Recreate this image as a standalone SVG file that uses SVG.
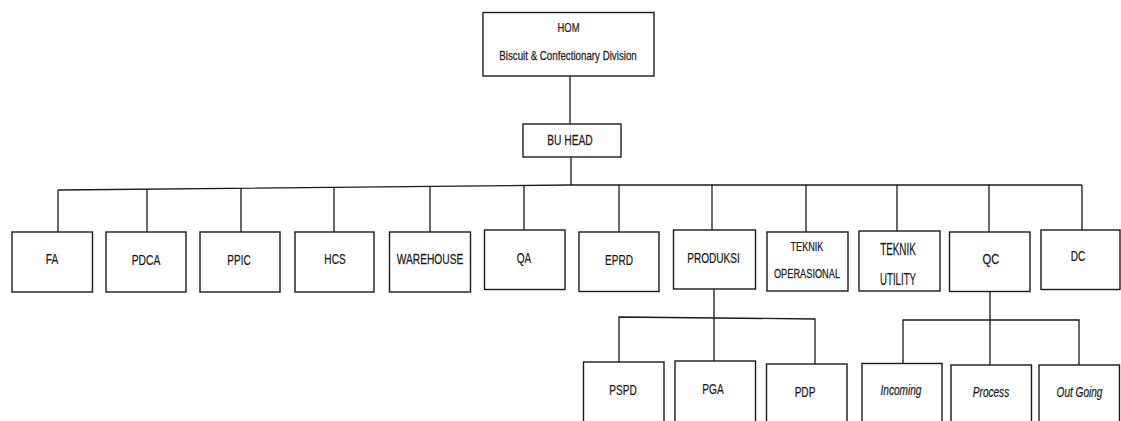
<svg xmlns="http://www.w3.org/2000/svg" width="1121" height="421" viewBox="0 0 1121 421">
<style>
.box{fill:#fff;stroke:#1a1a1a;stroke-width:1.4}
.ln{fill:none;stroke:#1a1a1a;stroke-width:1.3}
text{font-family:"Liberation Sans",Arial,sans-serif;fill:#111;stroke:#333;stroke-width:0.25;text-anchor:middle}
.t14{font-size:14px}
.t13{font-size:13px}
.t17{font-size:17px}
.it{font-style:italic}
</style>
<rect width="1121" height="421" fill="#fff"/>
<g id="connectors">
<line class="ln" x1="570" y1="76" x2="570" y2="124"/>
<line class="ln" x1="571" y1="157" x2="571" y2="185"/>
<polyline class="ln" points="58,190 571,185 1082,185"/>
<line class="ln" x1="58" y1="190" x2="58" y2="232"/>
<line class="ln" x1="147" y1="189" x2="147" y2="232"/>
<line class="ln" x1="241" y1="188" x2="241" y2="232"/>
<line class="ln" x1="334" y1="187" x2="334" y2="232"/>
<line class="ln" x1="430" y1="186" x2="430" y2="232"/>
<line class="ln" x1="524" y1="185.5" x2="524" y2="230"/>
<line class="ln" x1="619" y1="185" x2="619" y2="232"/>
<line class="ln" x1="712" y1="185" x2="712" y2="230"/>
<line class="ln" x1="806" y1="185" x2="806" y2="232"/>
<line class="ln" x1="897" y1="185" x2="897" y2="231"/>
<line class="ln" x1="989" y1="185" x2="989" y2="232"/>
<line class="ln" x1="1082" y1="185" x2="1082" y2="230"/>
<line class="ln" x1="714" y1="289" x2="714" y2="361"/>
<polyline class="ln" points="619,362 619,317 815,319 815,364"/>
<line class="ln" x1="990" y1="292" x2="990" y2="365"/>
<polyline class="ln" points="903,363 903,320 1079,320 1079,365"/>
</g>
<g id="hom"><rect class="box" x="483" y="12.5" width="171" height="63.5"/>
<text class="t13" transform="translate(568.5,31.7) scale(0.725,1)">HOM</text>
<text class="t13" transform="translate(568,60) scale(0.75,1)">Biscuit &amp; Confectionary Division</text></g>
<g id="buhead"><rect class="box" x="523" y="124" width="98" height="33"/>
<text class="t14" transform="translate(570,145) scale(0.73,1)">BU HEAD</text></g>
<g id="fa"><rect class="box" x="12" y="232" width="80.5" height="60"/>
<text class="t14" transform="translate(52,264) scale(0.72,1)">FA</text></g>
<g id="pdca"><rect class="box" x="106" y="232" width="80" height="60"/>
<text class="t14" transform="translate(146,264.5) scale(0.74,1)">PDCA</text></g>
<g id="ppic"><rect class="box" x="200" y="232" width="80" height="60"/>
<text class="t14" transform="translate(239,265) scale(0.72,1)">PPIC</text></g>
<g id="hcs"><rect class="box" x="295" y="232" width="79" height="60"/>
<text class="t14" transform="translate(335,264) scale(0.72,1)">HCS</text></g>
<g id="warehouse"><rect class="box" x="389.5" y="232" width="81" height="60"/>
<text class="t14" transform="translate(430,264) scale(0.73,1)">WAREHOUSE</text></g>
<g id="qa"><rect class="box" x="484.5" y="230" width="80.5" height="59.5"/>
<text class="t14" transform="translate(524,263) scale(0.72,1)">QA</text></g>
<g id="eprd"><rect class="box" x="579" y="232" width="80" height="59.5"/>
<text class="t14" transform="translate(619,265) scale(0.72,1)">EPRD</text></g>
<g id="produksi"><rect class="box" x="673.5" y="230" width="82" height="59"/>
<text class="t14" transform="translate(713.5,262.5) scale(0.72,1)">PRODUKSI</text></g>
<g id="teknik-operasional"><rect class="box" x="767" y="232" width="81" height="59"/>
<text class="t13" transform="translate(807,251) scale(0.7,1)">TEKNIK</text>
<text class="t13" transform="translate(807,277.5) scale(0.71,1)">OPERASIONAL</text></g>
<g id="teknik-utility"><rect class="box" x="859" y="231" width="81" height="60"/>
<text class="t17" transform="translate(898,255) scale(0.58,1)">TEKNIK</text>
<text class="t17" transform="translate(898,284.5) scale(0.57,1)">UTILITY</text></g>
<g id="qc"><rect class="box" x="949.5" y="232" width="80.5" height="59.5"/>
<text class="t14" transform="translate(991,263.5) scale(0.8,1)">QC</text></g>
<g id="dc"><rect class="box" x="1041" y="230" width="79" height="59.5"/>
<text class="t14" transform="translate(1078,261) scale(0.72,1)">DC</text></g>
<g id="pspd"><rect class="box" x="583.5" y="362" width="80.5" height="70"/>
<text class="t14" transform="translate(623,395) scale(0.72,1)">PSPD</text></g>
<g id="pga"><rect class="box" x="675" y="361" width="80.5" height="70"/>
<text class="t14" transform="translate(713,393.5) scale(0.72,1)">PGA</text></g>
<g id="pdp"><rect class="box" x="766.5" y="364" width="80.5" height="70"/>
<text class="t14" transform="translate(805,397) scale(0.72,1)">PDP</text></g>
<g id="incoming"><rect class="box" x="862" y="363.5" width="80" height="70"/>
<text class="t14 it" transform="translate(901,395) scale(0.72,1)">Incoming</text></g>
<g id="process"><rect class="box" x="951" y="365" width="80.5" height="70"/>
<text class="t14 it" transform="translate(991,396.5) scale(0.72,1)">Process</text></g>
<g id="outgoing"><rect class="box" x="1039" y="365" width="80.5" height="70"/>
<text class="t14 it" transform="translate(1079.5,397) scale(0.72,1)">Out Going</text></g>
</svg>
